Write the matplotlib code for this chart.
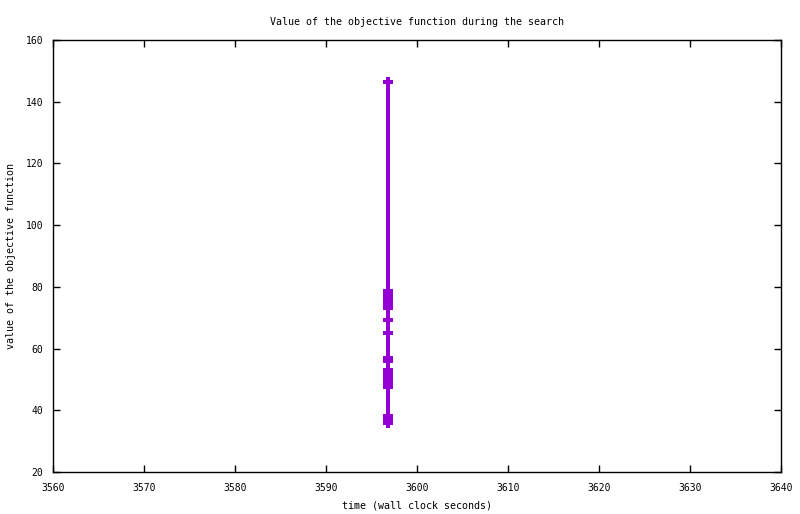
import matplotlib
matplotlib.use("Agg")
import matplotlib.pyplot as plt

values = [146.4,
          78.7, 78.0, 77.3, 76.6, 75.9, 75.2, 74.5, 73.8, 73.2,
          69.3, 65.2,
          57.0, 56.5, 56.1,
          53.1, 52.4, 51.7, 51.0, 50.3, 49.6, 48.9, 48.2, 47.6,
          38.2, 37.5, 36.8, 36.0]
times = [3596.8] * len(values)
xticks = [3560, 3570, 3580, 3590, 3600, 3610, 3620, 3630, 3640]
yticks = [20, 40, 60, 80, 100, 120, 140, 160]

plt.rcParams['font.family'] = ['DejaVu Sans Mono']
plt.rcParams['font.size'] = 7

fig = plt.figure(figsize=(8, 5.14), dpi=100)
ax = fig.add_axes([53/800, 42/514, 728/800, 432/514])
ax.plot(times, values, color='#9400D3', lw=2.9, marker='+', ms=7.5, mew=2.9)
ax.set_xlim(3560, 3640)
ax.set_ylim(20, 160)
ax.set_xticks(xticks)
ax.set_yticks(yticks)
ax.tick_params(direction='in', top=True, right=True, length=5, width=1)
ax.tick_params(axis='x', pad=8)
ax.tick_params(axis='y', pad=7)
for s in ax.spines.values():
    s.set_linewidth(1)
ax.set_title('Value of the objective function during the search', fontsize=7.2, pad=11)
ax.set_xlabel('time (wall clock seconds)', fontsize=7.2, labelpad=5)
ax.set_ylabel('value of the objective function', fontsize=7.2, labelpad=7)
fig.savefig('out.png', dpi=100)
